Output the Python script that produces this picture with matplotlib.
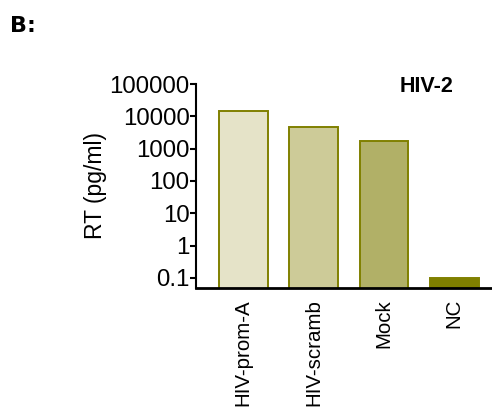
import matplotlib
matplotlib.use("Agg")
import matplotlib.pyplot as plt

plt.rcParams['font.family'] = ['Liberation Sans', 'DejaVu Sans']

groups = ["HIV-prom-A", "HIV-scramb", "Mock", "NC"]
rt = [14200, 4600, 1780, 0.1]
fills = ["#e5e3c8", "#cdcb98", "#b1b067", "#808000"]
yticks = [0.1, 1, 10, 100, 1000, 10000, 100000]
ylabels = ["0.1", "1", "10", "100", "1000", "10000", "100000"]

fig = plt.figure(figsize=(4.92, 4.07), dpi=100)
ax = fig.add_axes([0.398, 0.2924, 0.602, 0.5012])

ax.bar(range(len(groups)), rt, width=0.69, color=fills,
       edgecolor="#808000", linewidth=1.4, bottom=0.001)
ax.set_yscale("log")
ax.set_ylim(0.049, 100000)
ax.set_xlim(-0.676, 3.535)

ax.set_yticks(yticks)
ax.set_yticklabels(ylabels)
ax.minorticks_off()
ax.tick_params(axis="y", labelsize=17.3, length=4, width=1.5, pad=0.5, direction="out")
ax.set_xticks(range(len(groups)))
ax.set_xticklabels(groups, rotation=90, fontsize=14.8, va="top")
ax.tick_params(axis="x", length=0, pad=8)

ax.spines["top"].set_visible(False)
ax.spines["right"].set_visible(False)
ax.spines["left"].set_linewidth(1.5)
ax.spines["bottom"].set_linewidth(2)

ax.set_ylabel("RT (pg/ml)", fontsize=16.5, labelpad=2)
ax.text(0.78, 0.99, "HIV-2", transform=ax.transAxes, fontsize=15.5,
        fontweight="bold", ha="center", va="center")

fig.text(0.02, 0.935, "B:", fontsize=16, fontweight="bold",
         family="DejaVu Sans", ha="left", va="center")

fig.savefig("out.png", dpi=100)
